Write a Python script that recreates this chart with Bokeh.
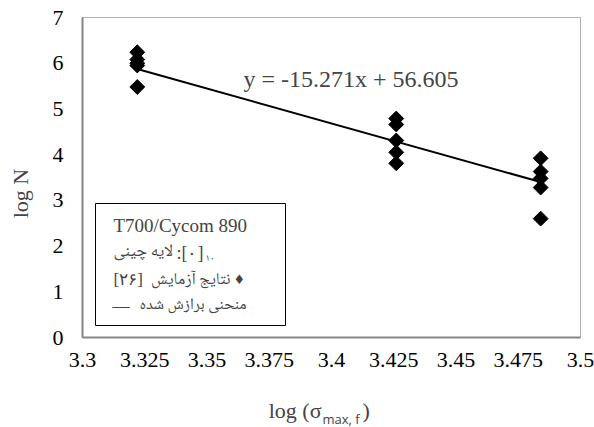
import numpy as np
from bokeh.plotting import figure
from bokeh.models import FixedTicker, Label, BoxAnnotation, Range1d
from bokeh.embed import file_html
from bokeh.resources import INLINE

# ---------------- data ----------------
x_ticks = [3.3, 3.325, 3.35, 3.375, 3.4, 3.425, 3.45, 3.475, 3.5]
x_tick_labels = ["3.3", "3.325", "3.35", "3.375", "3.4", "3.425", "3.45", "3.475", "3.5"]
y_ticks = [0, 1, 2, 3, 4, 5, 6, 7]
y_tick_labels = ["0", "1", "2", "3", "4", "5", "6", "7"]

log_stress = [3.322, 3.322, 3.322, 3.322, 3.322,
              3.426, 3.426, 3.426, 3.426, 3.426,
              3.484, 3.484, 3.484, 3.484, 3.484]
log_n = [6.24, 6.08, 6.0, 5.95, 5.48,
         4.79, 4.66, 4.31, 4.05, 3.81,
         3.92, 3.63, 3.48, 3.28, 2.6]

fit_slope = -15.271
fit_intercept = 56.605
fit_x = [3.322, 3.484]
fit_y = [fit_slope * v + fit_intercept for v in fit_x]
equation_text = "y = -15.271x + 56.605"

legend_title = "T700/Cycom 890"
legend_layup_word = "لایه چینی"
legend_layup_code = ":[۰]"
legend_layup_sub = "۱۰"
legend_test_ref = "[۲۶]"
legend_test_word = "نتایج آزمایش"
legend_test_mark = "♦"
legend_fit_mark = "—"
legend_fit_word = "منحنی برازش شده"
y_label = "log N"
x_label_main = "log (σ"
x_label_sub = "max, f"
x_label_close = ")"

# ---------------- layout (pixels of the picture) ----------------
W, H = 594, 427
L, R, T, B = 82, 580, 17, 337  # plot-area edges
X0, X1, Y0, Y1 = 3.3, 3.5, 0.0, 7.0


def dx(px):
    return X0 + (px - L) * (X1 - X0) / (R - L)


def dy(py):
    return Y0 + (B - py) * (Y1 - Y0) / (B - T)


p = figure(width=W, height=H, x_range=Range1d(dx(0), dx(W)), y_range=Range1d(dy(H), dy(0)),
           output_backend="svg", toolbar_location=None,
           min_border_left=0, min_border_right=0, min_border_top=0, min_border_bottom=0)

p.background_fill_color = "white"
p.border_fill_color = "white"
p.outline_line_color = None
p.grid.grid_line_color = None

SERIF = "Liberation Serif"
ARABIC = "Noto Naskh Arabic, DejaVu Sans"
for ax in (p.xaxis, p.yaxis):
    ax.axis_line_color = "#868686"
    ax.axis_line_width = 2
    ax.major_tick_line_color = None
    ax.minor_tick_line_color = None
    ax.major_tick_out = 0
    ax.major_tick_in = 0
    ax.major_label_text_font = SERIF
    ax.major_label_text_font_size = "22px"
    ax.major_label_text_color = "black"

p.xaxis.ticker = FixedTicker(ticks=x_ticks)
p.xaxis.major_label_overrides = dict(zip(x_ticks, x_tick_labels))
p.xaxis.major_label_standoff = 15
p.xaxis.fixed_location = Y0
p.xaxis.bounds = (X0, X1)
p.yaxis.ticker = FixedTicker(ticks=y_ticks)
p.yaxis.major_label_overrides = dict(zip(y_ticks, y_tick_labels))
p.yaxis.major_label_standoff = 19
p.yaxis.fixed_location = X0
p.yaxis.bounds = (Y0, Y1)

# plot-area border (top/right black; left/bottom covered by grey axes)
p.add_layout(BoxAnnotation(left=X0, right=X1, bottom=Y0, top=Y1, fill_alpha=0,
                           line_color="black", line_width=1, level="underlay"))

# data
p.line(fit_x, fit_y, line_color="black", line_width=2)
p.scatter(log_stress, log_n, marker="square", angle=np.pi / 4, size=10.5,
          fill_color="black", line_color="black")

# equation
p.add_layout(Label(x=dx(243), y=dy(78), text=equation_text, text_font=SERIF,
                   text_font_size="24px", text_baseline="middle", text_align="left"))


def add_text(txt, px, py, size, font=SERIF, align="left", angle=0.0):
    p.add_layout(Label(x=dx(px), y=dy(py), text=txt, text_font=font,
                       text_font_size=size, text_baseline="middle", text_align=align,
                       angle=angle))


# legend box
p.add_layout(BoxAnnotation(left=dx(95), right=dx(285), top=dy(203), bottom=dy(325),
                           fill_color="white", fill_alpha=1.0,
                           line_color="black", line_width=1, line_alpha=1.0))
add_text(legend_title, 113, 225, "19px")
# row 2
add_text(legend_layup_word, 113, 252, "17px", font=ARABIC)
add_text(legend_layup_code, 176, 252, "18px")
add_text(legend_layup_sub, 205, 258, "10px", font=ARABIC)
# row 3
add_text(legend_test_ref, 113, 279, "17px")
add_text(legend_test_word, 230, 279, "16.5px", font=ARABIC, align="right")
add_text(legend_test_mark, 233, 279, "13px", font="DejaVu Sans")
# row 4
add_text(legend_fit_mark, 112, 305, "17px")
add_text(legend_fit_word, 246, 305, "16px", font=ARABIC, align="right")

# axis titles
add_text(y_label, 20, 193, "22px", align="center", angle=np.pi / 2)
add_text(x_label_main, 321, 410, "22px", align="right")
add_text(x_label_sub, 322, 418, "13px", font="Open Sans")
add_text(x_label_close, 362, 410, "22px")

open("out.html", "w").write(file_html(p, INLINE))
